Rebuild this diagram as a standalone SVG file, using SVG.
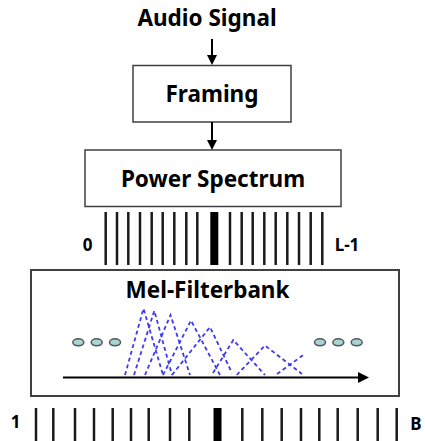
<svg xmlns="http://www.w3.org/2000/svg" width="425" height="441" viewBox="0 0 425 441">
<style>
.t{font-family:"Noto Sans","Open Sans",sans-serif;font-weight:bold;fill:#000;text-anchor:middle}
.big{font-size:22.5px}
.sm{font-size:17px}
.box{fill:#fff;stroke:#404040;stroke-width:1.5}
.bar{stroke:#1a1a1a;stroke-width:2.5}
.thick{stroke:#000;stroke-width:8}
.filt{fill:none;stroke:#3c3cf0;stroke-width:1.8;stroke-dasharray:4 3}
.dot{fill:#a9d4d4;stroke:#555;stroke-width:1.5}
</style>
<rect width="425" height="441" fill="#fff"/>
<g id="audio"><text class="t big" x="207" y="26">Audio Signal</text></g>
<g id="framing">
<rect class="box" x="133" y="65.5" width="158" height="56.5"/>
<text class="t big" x="212" y="102">Framing</text>
</g>
<g id="power">
<rect class="box" x="85" y="150" width="256" height="56.5"/>
<text class="t big" x="213" y="187">Power Spectrum</text>
</g>
<g id="power-bins">
<g class="bar">
<line x1="105.7" y1="212" x2="105.7" y2="265"/>
<line x1="117" y1="212" x2="117" y2="265"/>
<line x1="128.3" y1="212" x2="128.3" y2="265"/>
<line x1="140" y1="212" x2="140" y2="265"/>
<line x1="151.7" y1="212" x2="151.7" y2="265"/>
<line x1="162.7" y1="212" x2="162.7" y2="265"/>
<line x1="174.3" y1="212" x2="174.3" y2="265"/>
<line x1="186.3" y1="212" x2="186.3" y2="265"/>
<line x1="197.3" y1="212" x2="197.3" y2="265"/>
<line x1="230" y1="212" x2="230" y2="265"/>
<line x1="241.7" y1="212" x2="241.7" y2="265"/>
<line x1="252.7" y1="212" x2="252.7" y2="265"/>
<line x1="264.3" y1="212" x2="264.3" y2="265"/>
<line x1="275.7" y1="212" x2="275.7" y2="265"/>
<line x1="287.3" y1="212" x2="287.3" y2="265"/>
<line x1="299" y1="212" x2="299" y2="265"/>
<line x1="310.7" y1="212" x2="310.7" y2="265"/>
<line x1="322.3" y1="212" x2="322.3" y2="265"/>
</g>
<line class="thick" x1="214.3" y1="212" x2="214.3" y2="265"/>
<text class="t sm" x="87.5" y="251">0</text>
<text class="t sm" x="347" y="251">L-1</text>
</g>
<g id="mel">
<rect x="31" y="270" width="368" height="126" fill="#fff" stroke="#404040" stroke-width="2"/>
<text class="t big" x="207.5" y="298">Mel-Filterbank</text>
<g id="filters">
<polyline class="filt" points="125,375 143.5,308.5 163,375"/>
<polyline class="filt" points="134,375 154.3,310.7 172,375"/>
<polyline class="filt" points="145,375 170.5,315 190,375"/>
<polyline class="filt" points="163,375 191,320.5 220,375"/>
<polyline class="filt" points="172,375 210,327 232,373"/>
<polyline class="filt" points="213,373 233.3,340 265,375"/>
<polyline class="filt" points="236.7,375 265,345.5 302,374"/>
<polyline class="filt" points="277,374 303.3,355"/>
</g>
<ellipse class="dot" cx="78.3" cy="342.3" rx="5.5" ry="3.5"/>
<ellipse class="dot" cx="96.7" cy="342.3" rx="5.5" ry="3.5"/>
<ellipse class="dot" cx="115" cy="342.3" rx="5.5" ry="3.5"/>
<ellipse class="dot" cx="320" cy="342.3" rx="5.5" ry="3.5"/>
<ellipse class="dot" cx="338.3" cy="342.3" rx="5.5" ry="3.5"/>
<ellipse class="dot" cx="356.7" cy="342.3" rx="5.5" ry="3.5"/>
<line x1="63" y1="377.5" x2="360" y2="377.5" stroke="#000" stroke-width="2"/>
<polygon points="358,372 369,377.5 358,383" fill="#000"/>
</g>
<g id="mel-bins">
<g class="bar">
<line x1="36" y1="408" x2="36" y2="441"/>
<line x1="53.3" y1="408" x2="53.3" y2="441"/>
<line x1="75" y1="408" x2="75" y2="441"/>
<line x1="94" y1="408" x2="94" y2="441"/>
<line x1="112.7" y1="408" x2="112.7" y2="441"/>
<line x1="131" y1="408" x2="131" y2="441"/>
<line x1="148.7" y1="408" x2="148.7" y2="441"/>
<line x1="170" y1="408" x2="170" y2="441"/>
<line x1="189.3" y1="408" x2="189.3" y2="441"/>
<line x1="242.3" y1="408" x2="242.3" y2="441"/>
<line x1="262.3" y1="408" x2="262.3" y2="441"/>
<line x1="281.7" y1="408" x2="281.7" y2="441"/>
<line x1="301" y1="408" x2="301" y2="441"/>
<line x1="319.3" y1="408" x2="319.3" y2="441"/>
<line x1="337.7" y1="408" x2="337.7" y2="441"/>
<line x1="357.7" y1="408" x2="357.7" y2="441"/>
<line x1="377.7" y1="408" x2="377.7" y2="441"/>
<line x1="396.7" y1="408" x2="396.7" y2="441"/>
</g>
<line class="thick" x1="217.5" y1="408" x2="217.5" y2="441"/>
<text class="t sm" x="15.5" y="428">1</text>
<text class="t sm" x="416" y="430">B</text>
</g>
<g id="connectors">
<line x1="212" y1="39" x2="212" y2="56" stroke="#000" stroke-width="2"/>
<polygon points="207,55 217,55 212,65" fill="#000"/>
<line x1="212" y1="122" x2="212" y2="141" stroke="#000" stroke-width="2"/>
<polygon points="207,140 217,140 212,150" fill="#000"/>
</g>
</svg>
